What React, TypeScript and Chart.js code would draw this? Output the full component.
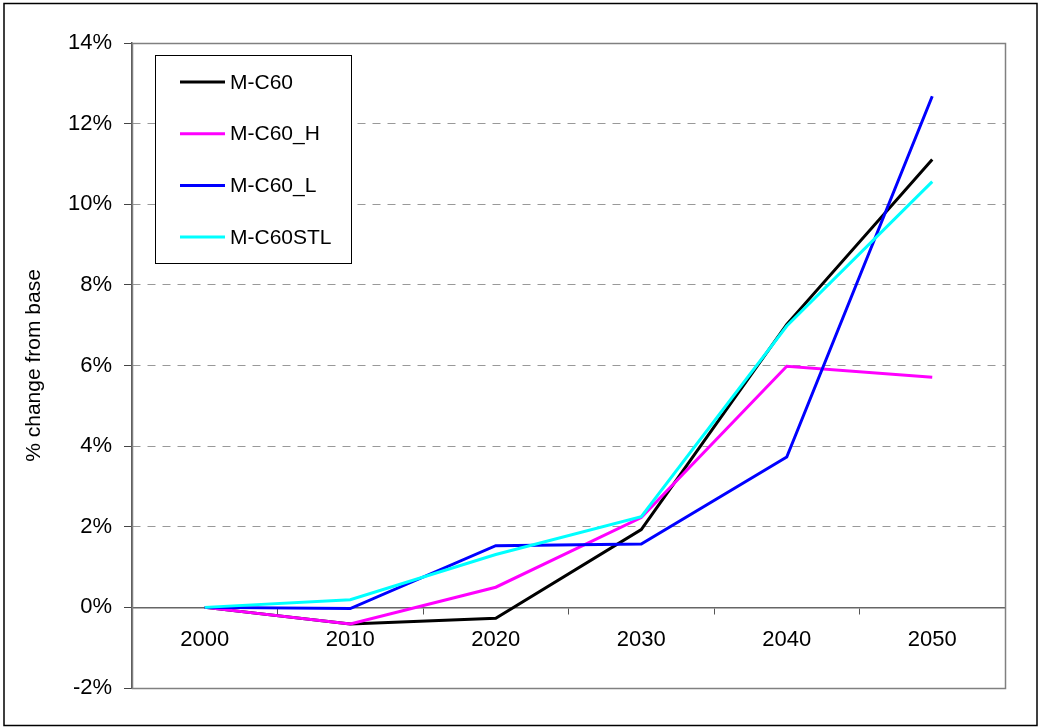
import React, { useEffect, useRef } from "react";
import { Chart, registerables } from "chart.js";

Chart.register(...registerables);

const categories = ["2000", "2010", "2020", "2030", "2040", "2050"];
const seriesNames = ["M-C60", "M-C60_H", "M-C60_L", "M-C60STL"];
const seriesColors = ["#000000", "#FF00FF", "#0000FF", "#00FFFF"];
const mC60 = [0, -0.41, -0.27, 1.93, 7.02, 11.11];
const mC60H = [0, -0.41, 0.5, 2.23, 5.98, 5.71];
const mC60L = [0, -0.03, 1.53, 1.57, 3.73, 12.68];
const mC60STL = [0, 0.19, 1.31, 2.25, 6.98, 10.56];
const yTicks = [-2, 0, 2, 4, 6, 8, 10, 12, 14];
const yTitle = "% change from base";

const FONT = "'Liberation Sans', Arial, sans-serif";

const framePlugin = {
  id: "frame",
  beforeDraw(chart: any) {
    const ctx = chart.ctx;
    ctx.save();
    ctx.fillStyle = "#ffffff";
    ctx.fillRect(0, 0, chart.width, chart.height);
    ctx.restore();
  },
  afterDatasetsDraw(chart: any) {
    const ctx = chart.ctx;
    const a = chart.chartArea;
    ctx.save();
    // plot area border
    ctx.strokeStyle = "#808080";
    ctx.lineWidth = 1.5;
    ctx.strokeRect(Math.round(a.left) + 0.5, Math.round(a.top) + 0.5, Math.round(a.right - a.left), Math.round(a.bottom - a.top));
    // outer border
    ctx.strokeStyle = "#000000";
    ctx.lineWidth = 1.5;
    ctx.strokeRect(4, 3.5, 1033, 722);

    // legend
    const lx = 155, ly = 55, lw = 196, lh = 208;
    ctx.fillStyle = "#ffffff";
    ctx.fillRect(lx, ly, lw, lh);
    ctx.strokeStyle = "#000000";
    ctx.lineWidth = 1;
    ctx.strokeRect(lx + 0.5, ly + 0.5, lw, lh);
    ctx.font = `21px ${FONT}`;
    ctx.textBaseline = "middle";
    ctx.textAlign = "left";
    chart.data.datasets.forEach((ds: any, i: number) => {
      const y = 82 + i * 51.7;
      ctx.strokeStyle = ds.borderColor;
      ctx.lineWidth = 3;
      ctx.beginPath();
      ctx.moveTo(180, y);
      ctx.lineTo(225, y);
      ctx.stroke();
      ctx.fillStyle = "#000000";
      ctx.fillText(ds.label, 230, y + 1);
    });
    ctx.restore();
  },
};

export default function App() {
  const ref = useRef<HTMLCanvasElement>(null);
  useEffect(() => {
    const values = [mC60, mC60H, mC60L, mC60STL];
    const chart = new Chart(ref.current as HTMLCanvasElement, {
      type: "line",
      data: {
        labels: categories,
        datasets: seriesNames.map((name, i) => ({
          label: name,
          data: values[i],
          borderColor: seriesColors[i],
          backgroundColor: seriesColors[i],
          borderWidth: 3,
          pointRadius: 0,
          tension: 0,
          fill: false,
          order: seriesNames.length - i,
        })),
      },
      options: {
        responsive: false,
        animation: false,
        devicePixelRatio: 1,
        layout: { padding: { top: 43, right: 36, bottom: 39, left: 0 } },
        plugins: {
          legend: { display: false },
          tooltip: { enabled: false },
        },
        scales: {
          x: {
            type: "category",
            offset: true,
            position: { y: 0 } as any,
            grid: {
              display: true,
              offset: true,
              drawOnChartArea: false,
              drawTicks: true,
              tickLength: 6,
              color: "#555555",
            },
            border: { display: true, color: "#666666", width: 1.5 },
            ticks: {
              color: "#000000",
              font: { family: FONT, size: 22 },
              padding: 13,
              maxRotation: 0,
            },
          },
          y: {
            type: "linear",
            min: -2,
            max: 14,
            afterFit: (scale: any) => {
              scale.width = 132;
            },
            afterBuildTicks: (scale: any) => {
              scale.ticks = yTicks.map((v) => ({ value: v }));
            },
            grid: {
              color: "#999999",
              lineWidth: 1,
              drawTicks: true,
              tickLength: 8,
              tickColor: "#444444",
              tickBorderDash: [],
            },
            border: { display: true, color: "#555555", width: 1.5, dash: [8, 7] as any },
            ticks: {
              color: "#000000",
              font: { family: FONT, size: 22 },
              padding: 12,
              callback: (v: any) => `${v}%`,
            },
            title: {
              display: true,
              text: yTitle,
              color: "#000000",
              font: { family: FONT, size: 21 },
              padding: { top: 22, bottom: 0 },
            },
          },
        },
      },
      plugins: [framePlugin],
    });
    return () => chart.destroy();
  }, []);
  return (
    <div style={{ position: "fixed", left: 0, top: 0, width: 1041, height: 727 }}>
      <canvas ref={ref} width={1041} height={727} />
    </div>
  );
}
